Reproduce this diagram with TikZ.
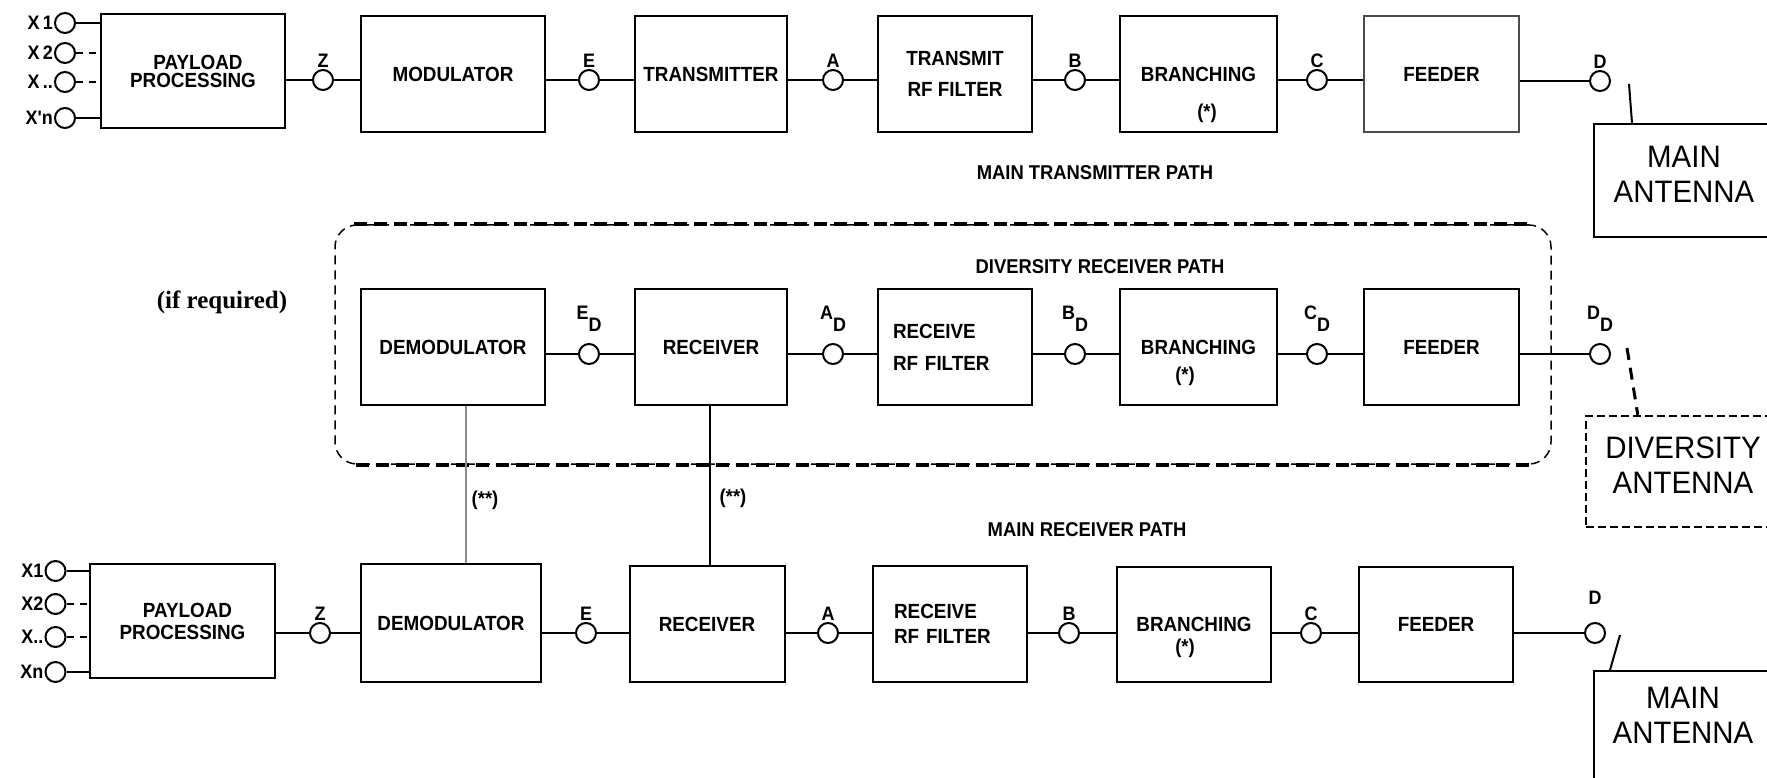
\documentclass[tikz,border=0pt]{standalone}
\usepackage{fontspec}
\setmainfont{Liberation Serif}
\newfontfamily\labfont[FakeStretch=0.92]{Liberation Sans}
\newfontfamily\antfont[FakeStretch=0.95]{Liberation Sans}
\usetikzlibrary{calc,positioning}
\newcommand\dlab[1]{#1\raisebox{-0.62em}{D}}

\begin{document}
\begin{tikzpicture}[x=1pt,y=-1pt,
		blk/.style={draw,line width=2,minimum height=116,inner sep=0,align=center,font=\labfont\bfseries\fontsize{20.5}{22}\selectfont},
		pt/.style={draw,circle,line width=2,minimum size=20,inner sep=0,label distance=7},
		inlab/.style={label distance=9},
		ptlab/.style={inner sep=1,font=\labfont\bfseries\fontsize{19.5}{20}\selectfont},
		txt/.style={inner sep=0,font=\labfont\bfseries\fontsize{20}{22}\selectfont},
		ant/.style={draw,line width=2,inner sep=0},
		anttxt/.style={inner sep=0,align=center,font=\antfont\fontsize{31}{35}\selectfont},
		wire/.style={line width=2},
		gapline/.style={line width=2,dash pattern=on 7 off 6},
		thindash/.style={line width=1.5,dash pattern=on 9 off 6},
		thickdash/.style={line width=3.8,dash pattern=on 13 off 7}]
	\useasboundingbox (0,0) rectangle (1767,778);
	\clip (0,0) rectangle (1767,778);

	\node[pt,inlab,label={[ptlab]left:X\,1}] (i1t) at (65,23) {};
	\node[pt,inlab,label={[ptlab]left:X\,2}] (i2t) at (65,53) {};
	\node[pt,inlab,label={[ptlab]left:X\,..}] (i3t) at (65,82) {};
	\node[pt,inlab,label={[ptlab]left:X'n}] (i4t) at (65,118) {};
	\node[blk,minimum width=184,minimum height=114] (payT) at (193,71) {\hspace*{10pt}PAYLOAD\\[-4pt]PROCESSING};
	\node[pt,label={[ptlab]above:Z}] (Zt) at (323,80) {};
	\node[blk,minimum width=184] (modT) at (453,74) {MODULATOR};
	\node[pt,label={[ptlab]above:E}] (Et) at (589,80) {};
	\node[blk,minimum width=152] (txT) at (711,74) {TRANSMITTER};
	\node[pt,label={[ptlab]above:A}] (At) at (833,80) {};
	\node[blk,minimum width=154] (rfT) at (955,74) {TRANSMIT\\[9pt]RF FILTER};
	\node[pt,label={[ptlab]above:B}] (Bt) at (1075,80) {};
	\node[blk,minimum width=157] (brT) at (1198.5,74) {BRANCHING};
	\node[txt] (starT) at (1207,113) {(*)};
	\node[pt,label={[ptlab]above:C}] (Ct) at (1317,80) {};
	\node[blk,minimum width=155,draw=black!70] (feedT) at (1441.5,74) {FEEDER};
	\node[pt,label={[ptlab]above:D}] (Dt) at (1600,81) {};
	\node[ant,minimum width=178,minimum height=113] (antT) at (1683,180.5) {};
	\node[anttxt] (antTtxt) at (1684,174) {MAIN\\ANTENNA};
	\node[txt] (ttlT) at (1095,173) {MAIN TRANSMITTER PATH};

	\draw[wire] (i1t) -- (payT.west |- i1t) (i4t) -- (payT.west |- i4t);
	\draw[gapline] (i2t) -- (payT.west |- i2t) (i3t) -- (payT.west |- i3t);
	\draw[wire] (payT.east |- Zt) -- (Zt) -- (modT.west |- Zt) (modT.east |- Et) -- (Et) -- (txT.west |- Et)
		(txT.east |- At) -- (At) -- (rfT.west |- At) (rfT.east |- Bt) -- (Bt) -- (brT.west |- Bt)
		(brT.east |- Ct) -- (Ct) -- (feedT.west |- Ct) (feedT.east |- Dt) -- (Dt);
	\draw[wire] ($(Dt)+(29,3)$) -- ($(antT.north west)+(39,0)$);

	\node[draw,thindash,rounded corners=22,minimum width=1216,minimum height=239,inner sep=0] (div) at (943,344.5) {};
	\draw[thickdash] ($(div.north west)+(20,0)$) -- ($(div.north east)+(-22,0)$);
	\draw[thickdash] ($(div.south west)+(22,0)$) -- ($(div.south east)+(-22,0)$);
	\node[inner sep=0,font=\bfseries\fontsize{25}{28}\selectfont] (ifreq) at (222,302) {(if required)};
	\node[txt] (ttlD) at (1100,267) {DIVERSITY RECEIVER PATH};

	\node[blk,minimum width=184] (demD) at (453,347) {DEMODULATOR};
	\node[pt,label={[ptlab,label distance=10]above:\dlab{E}}] (EDd) at (589,354) {};
	\node[blk,minimum width=152] (rxD) at (711,347) {RECEIVER};
	\node[pt,label={[ptlab,label distance=10]above:\dlab{A}}] (ADd) at (833,354) {};
	\node[blk,minimum width=154,text width=124,align=left] (rfD) at (955,347) {RECEIVE\\[10pt]RF FILTER};
	\node[pt,label={[ptlab,label distance=10]above:\dlab{B}}] (BDd) at (1075,354) {};
	\node[blk,minimum width=157] (brD) at (1198.5,347) {BRANCHING};
	\node[txt] (starD) at (1185,376) {(*)};
	\node[pt,label={[ptlab,label distance=10]above:\dlab{C}}] (CDd) at (1317,354) {};
	\node[blk,minimum width=155] (feedD) at (1441.5,347) {FEEDER};
	\node[pt,label={[ptlab,label distance=10]above:\dlab{D}}] (DDd) at (1600,354) {};
	\node[ant,line width=2.5,dash pattern=on 8 off 4,minimum width=194,minimum height=111] (antD) at (1683,471.5) {};
	\node[anttxt] (antDtxt) at (1683,465) {DIVERSITY\\ANTENNA};

	\draw[wire] (demD.east |- EDd) -- (EDd) -- (rxD.west |- EDd) (rxD.east |- ADd) -- (ADd) -- (rfD.west |- ADd)
		(rfD.east |- BDd) -- (BDd) -- (brD.west |- BDd) (brD.east |- CDd) -- (CDd) -- (feedD.west |- CDd)
		(feedD.east |- DDd) -- (DDd);
	\draw[line width=3,dash pattern=on 12 off 8] ($(DDd)+(27,-6)$) -- ($(antD.north west)+(53,0)$);

	\node[pt,inlab,label={[ptlab]left:X1}] (i1r) at (55.5,571) {};
	\node[pt,inlab,label={[ptlab]left:X2}] (i2r) at (55.5,604) {};
	\node[pt,inlab,label={[ptlab]left:X..}] (i3r) at (55.5,637) {};
	\node[pt,inlab,label={[ptlab]left:Xn}] (i4r) at (55.5,672) {};
	\node[blk,minimum width=185,minimum height=114] (payR) at (182.5,621) {\hspace*{10pt}PAYLOAD\\PROCESSING};
	\node[pt,label={[ptlab]above:Z}] (Zr) at (320,633) {};
	\node[blk,minimum width=180,minimum height=118] (demR) at (451,623) {DEMODULATOR};
	\node[pt,label={[ptlab]above:E}] (Er) at (586,633) {};
	\node[blk,minimum width=155] (rxR) at (707,624) {RECEIVER};
	\node[pt,label={[ptlab]above:A}] (Ar) at (828,633) {};
	\node[blk,minimum width=154,text width=111,align=left] (rfR) at (949.6,624) {RECEIVE\\[3pt]RF FILTER};
	\node[pt,label={[ptlab]above:B}] (Br) at (1069,633) {};
	\node[blk,minimum width=154,minimum height=115] (brR) at (1194,624.5) {BRANCHING};
	\node[txt] (starR) at (1185,648) {(*)};
	\node[pt,label={[ptlab]above:C}] (Cr) at (1311,633) {};
	\node[blk,minimum width=154,minimum height=115] (feedR) at (1436,624.5) {FEEDER};
	\node[pt,label={[ptlab,label distance=16]above:D}] (Dr) at (1595,633) {};
	\node[ant,anchor=north west,minimum width=200,minimum height=150] (antR) at (1593,670) {};
	\node[anttxt] (antRtxt) at (1683,715) {MAIN\\ANTENNA};
	\node[txt] (ttlR) at (1087,530) {MAIN RECEIVER PATH};

	\draw[wire] (i1r) -- (payR.west |- i1r) (i4r) -- (payR.west |- i4r);
	\draw[gapline] (i2r) -- (payR.west |- i2r) (i3r) -- (payR.west |- i3r);
	\draw[wire] (payR.east |- Zr) -- (Zr) -- (demR.west |- Zr) (demR.east |- Er) -- (Er) -- (rxR.west |- Er)
		(rxR.east |- Ar) -- (Ar) -- (rfR.west |- Ar) (rfR.east |- Br) -- (Br) -- (brR.west |- Br)
		(brR.east |- Cr) -- (Cr) -- (feedR.west |- Cr) (feedR.east |- Dr) -- (Dr);
	\draw[wire] ($(Dr)+(25,2)$) -- ($(antR.north west)+(17,0)$);

	\draw[wire,black!45] ($(demD.south)+(13,0)$) -- ($(demR.north)+(15,0)$);
	\draw[wire] ($(rxD.south)+(-1,0)$) -- ($(rxR.north)+(3,0)$);
	\node[txt] (lnkA) at (485,500) {(**)};
	\node[txt] (lnkB) at (733,498) {(**)};
\end{tikzpicture}
\end{document}
